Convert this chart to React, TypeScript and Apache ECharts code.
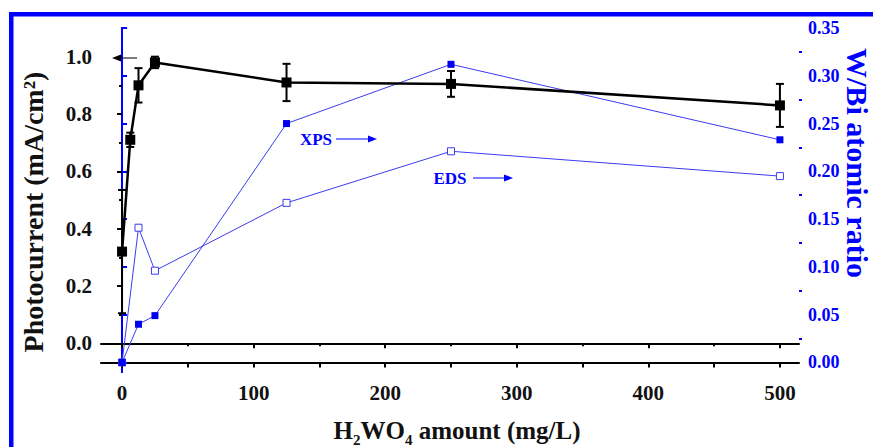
import React, { useEffect, useRef } from "react";
import * as echarts from "echarts";

// ---- data ----
const photoX = [0, 6.25, 12.5, 25, 125, 250, 500];
const photoY = [0.32, 0.71, 0.9, 0.98, 0.91, 0.905, 0.83];
const photoErr = [0.215, 0.025, 0.06, 0.02, 0.065, 0.045, 0.075];

const ratioX = [0, 12.5, 25, 125, 250, 500];
const xpsY = [0, 0.04, 0.049, 0.25, 0.312, 0.233];
const edsY = [0, 0.141, 0.096, 0.167, 0.221, 0.195];

const xMajor = [0, 100, 200, 300, 400, 500];
const xMinor = [50, 150, 250, 350, 450];
const xAll = [0, 50, 100, 150, 200, 250, 300, 350, 400, 450, 500];
const leftMajor = [0, 0.2, 0.4, 0.6, 0.8, 1.0];
const leftMinor = [0.1, 0.3, 0.5, 0.7, 0.9];
const rightMajor = [0, 0.05, 0.1, 0.15, 0.2, 0.25, 0.3, 0.35];
const rightMinor = [0.025, 0.075, 0.125, 0.175, 0.225, 0.275, 0.325];

const FONT = "Liberation Serif";
const BLUE = "#0000ff";
const LINEBLUE = "#3c3cf0";

export default function App() {
  const ref = useRef<HTMLDivElement>(null);
  useEffect(() => {
    if (!ref.current) return;
    const chart = echarts.init(ref.current, null, { renderer: "svg" });
    const xBase = { type: "value", min: -16, max: 514.5, splitLine: { show: false } };
    const yLeftBase = { type: "value", min: -0.1, max: 1.1, splitLine: { show: false }, position: "left" };
    const yRightBase = { type: "value", min: -0.01, max: 0.35, splitLine: { show: false }, position: "right" };
    const errData = photoX.map((x, i) => [x, photoY[i] - photoErr[i], photoY[i] + photoErr[i]]);
    const txt = (size: number, color: string) => ({
      fontFamily: FONT,
      fontWeight: "bold",
      fontSize: size,
      color,
    });
    chart.setOption({
      animation: false,
      backgroundColor: "#ffffff",
      textStyle: { fontFamily: FONT },
      grid: { left: 101, right: 74, top: 28, bottom: 75 },
      xAxis: [
        {
          ...xBase,
          position: "bottom",
          axisLine: { show: true, lineStyle: { color: "#000", width: 2 } },
          axisTick: { show: true, customValues: xMajor, length: 5, inside: false, lineStyle: { color: "#000", width: 2 } },
          axisLabel: { show: true, customValues: xMajor, margin: 10, ...txt(21, "#111") },
        },
        {
          ...xBase,
          position: "bottom",
          axisLine: { show: false },
          axisTick: { show: true, customValues: xMinor, length: 3, lineStyle: { color: "#000", width: 2 } },
          axisLabel: { show: false },
        },
        {
          ...xBase,
          position: "top",
          axisLine: { show: true, lineStyle: { color: "#000", width: 2 } },
          axisTick: { show: true, customValues: xAll, length: 5, inside: true, lineStyle: { color: "#000", width: 2 } },
          axisLabel: { show: false },
        },
      ],
      yAxis: [
        {
          ...yLeftBase,
          axisLine: { show: true, lineStyle: { color: "#000", width: 2 } },
          axisTick: { show: true, customValues: leftMajor, length: 5, lineStyle: { color: "#000", width: 2 } },
          axisLabel: {
            show: true,
            customValues: leftMajor,
            formatter: (v: number) => v.toFixed(1),
            margin: 9,
            ...txt(21, "#111"),
          },
        },
        {
          ...yLeftBase,
          axisLine: { show: false },
          axisTick: { show: true, customValues: leftMinor, length: 3, lineStyle: { color: "#000", width: 2 } },
          axisLabel: { show: false },
        },
        {
          ...yRightBase,
          axisLine: { show: true, lineStyle: { color: BLUE, width: 2 } },
          axisTick: { show: true, customValues: rightMajor, length: 5, lineStyle: { color: BLUE, width: 2 } },
          axisLabel: {
            show: true,
            customValues: rightMajor,
            formatter: (v: number) => v.toFixed(2),
            margin: 9,
            ...txt(18, BLUE),
          },
        },
        {
          ...yRightBase,
          axisLine: { show: false },
          axisTick: { show: true, customValues: rightMinor, length: 3, lineStyle: { color: BLUE, width: 2 } },
          axisLabel: { show: false },
        },
      ],
      series: [
        {
          name: "EDS",
          type: "line",
          xAxisIndex: 0,
          yAxisIndex: 2,
          data: ratioX.map((x, i) => [x, edsY[i]]),
          symbol: "rect",
          symbolSize: 7,
          lineStyle: { color: LINEBLUE, width: 1 },
          itemStyle: { color: "#ffffff", borderColor: LINEBLUE, borderWidth: 1 },
          z: 2,
        },
        {
          name: "XPS",
          type: "line",
          xAxisIndex: 0,
          yAxisIndex: 2,
          data: ratioX.map((x, i) => [x, xpsY[i]]),
          symbol: "rect",
          symbolSize: 7,
          lineStyle: { color: LINEBLUE, width: 1 },
          itemStyle: { color: "#0000ee", borderColor: "#0000ee", borderWidth: 0 },
          z: 3,
        },
        {
          name: "Photocurrent error",
          type: "custom",
          xAxisIndex: 0,
          yAxisIndex: 0,
          data: errData,
          z: 4,
          renderItem: (params: any, api: any) => {
            const x = api.value(0);
            const lo = api.coord([x, api.value(1)]);
            const hi = api.coord([x, api.value(2)]);
            const hw = 4;
            const style = { stroke: "#000", lineWidth: 2 };
            return {
              type: "group",
              children: [
                { type: "line", shape: { x1: hi[0], y1: hi[1], x2: lo[0], y2: lo[1] }, style },
                { type: "line", shape: { x1: hi[0] - hw, y1: hi[1], x2: hi[0] + hw, y2: hi[1] }, style },
                { type: "line", shape: { x1: lo[0] - hw, y1: lo[1], x2: lo[0] + hw, y2: lo[1] }, style },
              ],
            };
          },
        },
        {
          name: "Photocurrent",
          type: "line",
          xAxisIndex: 0,
          yAxisIndex: 0,
          data: photoX.map((x, i) => [x, photoY[i]]),
          symbol: "rect",
          symbolSize: 10,
          lineStyle: { color: "#000", width: 2.5 },
          itemStyle: { color: "#000" },
          z: 5,
        },
      ],
      graphic: [
        { type: "rect", shape: { x: 9, y: 12, width: 864, height: 4.5 }, style: { fill: BLUE }, z: 10 },
        { type: "rect", shape: { x: 9, y: 12, width: 4.5, height: 435 }, style: { fill: BLUE }, z: 10 },
        // left arrow
        { type: "line", shape: { x1: 119, y1: 58, x2: 137, y2: 58 }, style: { stroke: "#222", lineWidth: 1.2 } },
        { type: "polygon", shape: { points: [[112, 58], [121, 54.5], [121, 61.5]] }, style: { fill: "#000" } },
        // XPS
        {
          type: "text",
          x: 316,
          y: 139,
          style: { text: "XPS", fill: BLUE, fontFamily: FONT, fontWeight: "bold", fontSize: 17, align: "center", verticalAlign: "middle" },
        },
        { type: "line", shape: { x1: 336, y1: 139, x2: 371, y2: 139 }, style: { stroke: BLUE, lineWidth: 1.2 } },
        { type: "polygon", shape: { points: [[377, 139], [368, 135.5], [368, 142.5]] }, style: { fill: BLUE } },
        // EDS
        {
          type: "text",
          x: 450,
          y: 178,
          style: { text: "EDS", fill: BLUE, fontFamily: FONT, fontWeight: "bold", fontSize: 17, align: "center", verticalAlign: "middle" },
        },
        { type: "line", shape: { x1: 473, y1: 178, x2: 507, y2: 178 }, style: { stroke: BLUE, lineWidth: 1.2 } },
        { type: "polygon", shape: { points: [[513, 178], [504, 174.5], [504, 181.5]] }, style: { fill: BLUE } },
        // axis titles
        {
          type: "text",
          x: 33,
          y: 212,
          rotation: Math.PI / 2,
          style: {
            text: "Photocurrent (mA/cm²)",
            fill: "#111",
            fontFamily: FONT,
            fontWeight: "bold",
            fontSize: 28,
            align: "center",
            verticalAlign: "middle",
          },
        },
        {
          type: "text",
          x: 857,
          y: 163,
          rotation: -Math.PI / 2,
          style: {
            text: "W/Bi atomic ratio",
            fill: BLUE,
            fontFamily: FONT,
            fontWeight: "bold",
            fontSize: 30,
            align: "center",
            verticalAlign: "middle",
          },
        },
        {
          type: "text",
          x: 457,
          y: 430,
          style: {
            text: "{a|H}{s|2}{a|WO}{s|4}{a| amount (mg/L)}",
            align: "center",
            verticalAlign: "middle",
            rich: {
              a: { fontFamily: FONT, fontWeight: "bold", fontSize: 25, lineHeight: 34, fill: "#111", verticalAlign: "middle" },
              s: { fontFamily: FONT, fontWeight: "bold", fontSize: 15, lineHeight: 15, fill: "#111", verticalAlign: "bottom" },
            },
          },
        },
      ],
    });
    return () => chart.dispose();
  }, []);
  return <div ref={ref} style={{ position: "absolute", left: 0, top: 0, width: 873, height: 447 }} />;
}
